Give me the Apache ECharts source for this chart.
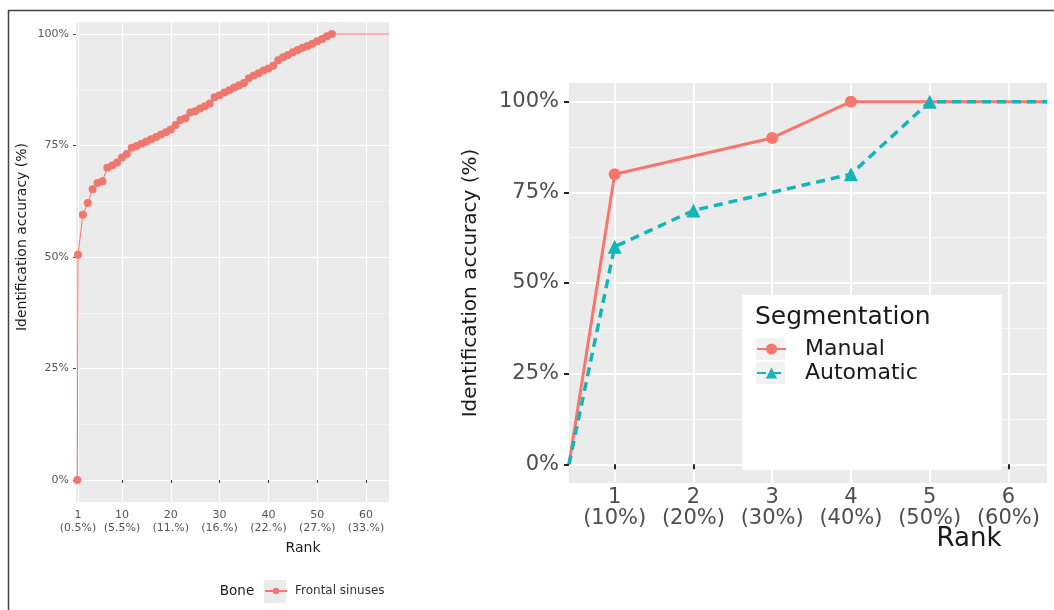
<!DOCTYPE html>
<html>
<head>
<meta charset="utf-8">
<script src="https://cdn.jsdelivr.net/npm/echarts@6/dist/echarts.min.js"></script>
<style>
  html, body { margin: 0; padding: 0; background: #ffffff; }
  #chart { width: 1054px; height: 610px; }
</style>
</head>
<body>
<div id="chart"></div>
<script>
// ---- Left panel: frontal sinuses, cumulative identification accuracy by rank ----
const boneRanks = [1, 2, 3, 4, 5, 6, 7, 8, 9, 10, 11, 12, 13, 14, 15, 16, 17, 18, 19, 20,
  21, 22, 23, 24, 25, 26, 27, 28, 29, 30, 31, 32, 33, 34, 35, 36, 37, 38, 39, 40,
  41, 42, 43, 44, 45, 46, 47, 48, 49, 50, 51, 52, 53];
const boneAccuracy = [50.5, 59.5, 62.1, 65.2, 66.6, 67.0, 70.0, 70.5, 71.2, 72.3,
  73.1, 74.5, 74.9, 75.4, 75.9, 76.4, 76.9, 77.5, 78.0, 78.6,
  79.6, 80.7, 81.1, 82.4, 82.7, 83.3, 83.8, 84.4, 85.8, 86.3,
  86.9, 87.4, 88.0, 88.5, 89.0, 90.1, 90.7, 91.2, 91.8, 92.3,
  92.9, 94.1, 94.8, 95.3, 95.9, 96.4, 96.9, 97.3, 97.8, 98.4,
  98.9, 99.5, 100];
const boneStart = [0.85, 0];          // first point of the curve
const boneRankRange = [0.59, 64.7];   // x extent of the panel
const boneAccRange = [-4.93, 102.7];  // y extent of the panel
const boneTicks = [1, 10, 20, 30, 40, 50, 60];
const boneTickLabels = ['1\n(0.5%)', '10\n(5.5%)', '20\n(11.%)', '30\n(16.%)',
  '40\n(22.%)', '50\n(27.%)', '60\n(33.%)'];

// ---- Right panel: manual vs automatic segmentation ----
const segStartRank = 0.42;
const manualRanks = [1, 3, 4];
const manualAccuracy = [80, 90, 100];
const autoRanks = [1, 2, 4, 5];
const autoAccuracy = [60, 70, 80, 100];
const segRankRange = [0.42, 6.49];
const segAccRange = [-5.15, 105.15];
const segTicks = [1, 2, 3, 4, 5, 6];
const segTickLabels = ['1\n(10%)', '2\n(20%)', '3\n(30%)', '4\n(40%)', '5\n(50%)', '6\n(60%)'];

const accuracyTicks = [0, 25, 50, 75, 100];
const accuracyMinor = [12.5, 37.5, 62.5, 87.5];

const FONT = 'DejaVu Sans';
const SALMON = '#F8766D';
const TEAL = '#14B5B9';

function tickLabel(ticks, labels) {
  return v => {
    const i = ticks.indexOf(v);
    return i >= 0 ? labels[i] : '';
  };
}

// curve points: hidden symbol on the open ends of each line
const boneData = [{ value: boneStart }]
  .concat(boneRanks.map((r, i) => [r, boneAccuracy[i]]))
  .concat([{ value: [boneRankRange[1], 100], symbol: 'none' }]);

function segData(ranks, acc) {
  return [{ value: [segStartRank, 0], symbol: 'none' }]
    .concat(ranks.map((r, i) => [r, acc[i]]))
    .concat([{ value: [segRankRange[1], 100], symbol: 'none' }]);
}

const chart = echarts.init(document.getElementById('chart'), null, { renderer: 'canvas' });

const option = {
  backgroundColor: '#ffffff',
  animation: false,
  textStyle: { fontFamily: FONT },
  grid: [
    { left: 76, top: 22, width: 313, height: 480, show: true, backgroundColor: '#EBEBEB', borderWidth: 0 },
    { left: 569, top: 83, width: 478, height: 400, show: true, backgroundColor: '#EBEBEB', borderWidth: 0 }
  ],
  xAxis: [
    {
      type: 'value', gridIndex: 0, min: boneRankRange[0], max: boneRankRange[1],
      axisLine: { show: false },
      axisTick: { show: true, length: 3, customValues: boneTicks, lineStyle: { color: '#444', width: 1 } },
      axisLabel: {
        customValues: boneTicks, formatter: tickLabel(boneTicks, boneTickLabels),
        fontSize: 11, lineHeight: 13, color: '#555', margin: 7, fontFamily: FONT
      },
      splitLine: { show: true, lineStyle: { color: '#ffffff', width: 1 } }
    },
    {
      type: 'value', gridIndex: 1, min: segRankRange[0], max: segRankRange[1],
      axisLine: { show: false },
      axisTick: { show: true, length: 5, customValues: segTicks, lineStyle: { color: '#222', width: 2 } },
      axisLabel: {
        customValues: segTicks, formatter: tickLabel(segTicks, segTickLabels),
        fontSize: 21, lineHeight: 21, color: '#4D4D4D', margin: 4, fontFamily: FONT
      },
      splitLine: { show: true, lineStyle: { color: '#ffffff', width: 2 } }
    }
  ],
  yAxis: [
    {
      type: 'value', gridIndex: 0, min: boneAccRange[0], max: boneAccRange[1],
      axisLine: { show: false },
      axisTick: { show: true, length: 3, customValues: accuracyTicks, lineStyle: { color: '#444', width: 1 } },
      axisLabel: { customValues: accuracyTicks, formatter: v => v + '%', fontSize: 11, color: '#555', margin: 7, fontFamily: FONT },
      splitLine: { show: true, lineStyle: { color: '#ffffff', width: 1 } }
    },
    {
      type: 'value', gridIndex: 1, min: segAccRange[0], max: segAccRange[1],
      axisLine: { show: false },
      axisTick: { show: true, length: 5, customValues: accuracyTicks, lineStyle: { color: '#222', width: 2 } },
      axisLabel: { customValues: accuracyTicks, formatter: v => v + '%', fontSize: 21, color: '#4D4D4D', margin: 10, fontFamily: FONT },
      splitLine: { show: true, lineStyle: { color: '#ffffff', width: 2 } }
    },
    // minor horizontal grid lines
    {
      type: 'value', gridIndex: 0, min: boneAccRange[0], max: boneAccRange[1],
      axisLine: { show: false }, axisLabel: { show: false },
      axisTick: { show: false, customValues: accuracyMinor },
      splitLine: { show: true, lineStyle: { color: '#F7F7F7', width: 0.8 } }
    },
    {
      type: 'value', gridIndex: 1, min: segAccRange[0], max: segAccRange[1],
      axisLine: { show: false }, axisLabel: { show: false },
      axisTick: { show: false, customValues: accuracyMinor },
      splitLine: { show: true, lineStyle: { color: '#F8F8F8', width: 1.2 } }
    }
  ],
  legend: [
    {
      data: ['Frontal sinuses'], left: 264, top: 584, orient: 'horizontal',
      itemWidth: 22, itemHeight: 8, selectedMode: false, z: 6, padding: 0,
      textStyle: { fontSize: 12, lineHeight: 14, color: '#333', fontFamily: FONT, padding: [0, 0, 0, 3] }
    },
    {
      data: ['Manual', 'Automatic'], left: 756, top: 338, orient: 'vertical',
      itemWidth: 29, itemHeight: 14, itemGap: 2, selectedMode: false, z: 6, padding: 0,
      textStyle: { fontSize: 22, lineHeight: 22, color: '#1A1A1A', fontFamily: FONT, padding: [0, 0, 0, 14] }
    }
  ],
  series: [
    {
      name: 'Frontal sinuses', type: 'line', xAxisIndex: 0, yAxisIndex: 0,
      data: boneData, symbol: 'circle', symbolSize: 8,
      lineStyle: { color: SALMON, width: 1 },
      itemStyle: { color: '#EF776E' },
      z: 3
    },
    {
      name: 'Manual', type: 'line', xAxisIndex: 1, yAxisIndex: 1,
      data: segData(manualRanks, manualAccuracy), symbol: 'circle', symbolSize: 12,
      lineStyle: { color: SALMON, width: 3 },
      itemStyle: { color: SALMON },
      z: 3
    },
    {
      name: 'Automatic', type: 'line', xAxisIndex: 1, yAxisIndex: 1,
      data: segData(autoRanks, autoAccuracy), symbol: 'triangle', symbolSize: 14,
      lineStyle: { color: TEAL, width: 3.5, type: [9, 6] },
      itemStyle: { color: TEAL },
      z: 4
    }
  ],
  graphic: [
    // figure frame
    { type: 'polyline', shape: { points: [[8.5, 610], [8.5, 10.5], [1054, 10.5]] },
      style: { stroke: '#444', lineWidth: 1.5, fill: null }, z: 10 },
    // left panel titles and legend
    { type: 'text', x: 22, y: 237, rotation: Math.PI / 2,
      style: { text: 'Identification accuracy (%)', font: '14px "DejaVu Sans"', fill: '#1A1A1A', textAlign: 'center', textVerticalAlign: 'middle' } },
    { type: 'text', x: 303, y: 548,
      style: { text: 'Rank', font: '14px "DejaVu Sans"', fill: '#1A1A1A', textAlign: 'center', textVerticalAlign: 'middle' } },
    { type: 'text', x: 237, y: 591,
      style: { text: 'Bone', font: '13.5px "DejaVu Sans"', fill: '#1A1A1A', textAlign: 'center', textVerticalAlign: 'middle' } },
    { type: 'rect', shape: { x: 264, y: 580, width: 22, height: 23 }, style: { fill: '#EBEBEB' }, z: 5 },
    // right panel titles
    { type: 'text', x: 471, y: 283, rotation: Math.PI / 2,
      style: { text: 'Identification accuracy (%)', font: '20px "DejaVu Sans"', fill: '#1A1A1A', textAlign: 'center', textVerticalAlign: 'middle' } },
    { type: 'text', x: 969, y: 539,
      style: { text: 'Rank', font: '26px "DejaVu Sans"', fill: '#1A1A1A', textAlign: 'center', textVerticalAlign: 'middle' } },
    // right legend box
    { type: 'rect', shape: { x: 742, y: 295, width: 260, height: 175 }, style: { fill: '#ffffff' }, z: 5 },
    { type: 'text', x: 755, y: 317, z: 6,
      style: { text: 'Segmentation', font: '25px "DejaVu Sans"', fill: '#1A1A1A', textAlign: 'left', textVerticalAlign: 'middle' } },
    { type: 'rect', shape: { x: 756, y: 338, width: 29, height: 22 }, style: { fill: '#F2F2F2' }, z: 5 },
    { type: 'rect', shape: { x: 756, y: 362, width: 29, height: 22 }, style: { fill: '#F2F2F2' }, z: 5 }
  ]
};

chart.setOption(option);
</script>
</body>
</html>
